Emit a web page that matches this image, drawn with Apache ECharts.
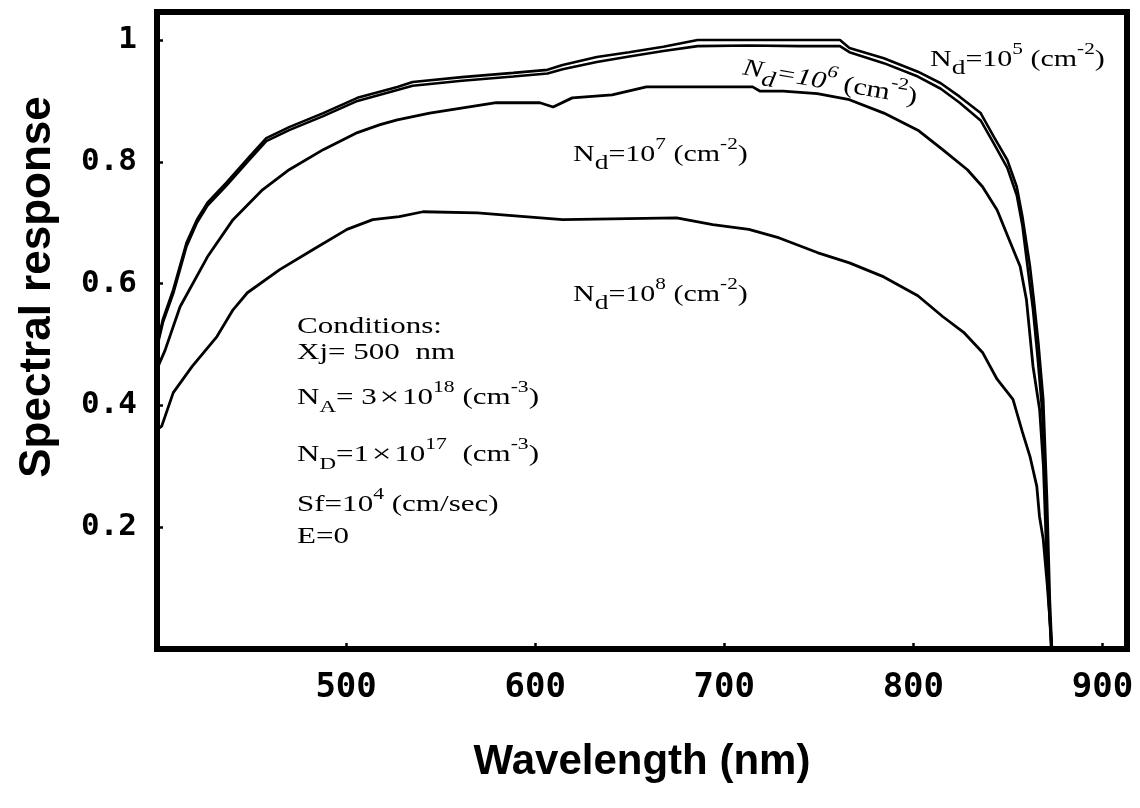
<!DOCTYPE html>
<html>
<head>
<meta charset="utf-8">
<title>Spectral response</title>
<script src="https://cdn.jsdelivr.net/npm/echarts@6.0.0/dist/echarts.min.js"></script>
<style>
  html, body { margin: 0; padding: 0; background: #fff; }
  #chart { width: 1140px; height: 808px; }
</style>
</head>
<body>
<div id="chart"></div>
<script>
// wavelength (nm) / spectral response
var wl5 = [400, 403.1, 408.6, 415.6, 421.1, 426.7, 436.7, 448.8, 457.8, 469.9, 487.9, 506, 527.1, 535.2, 561.3, 588.4, 606.5, 614.5, 632.6, 649.7, 667.8, 685.9, 713, 740.1, 761.2, 766.2, 784.4, 802.4, 814.5, 824.5, 835.6, 842.6, 849.7, 854.7, 857.7, 861.7, 863.7, 866.2, 868.7, 870.7, 872.2, 873.3];
var sr5 = [0.50, 0.541, 0.59, 0.667, 0.705, 0.733, 0.766, 0.808, 0.839, 0.857, 0.88, 0.905, 0.923, 0.931, 0.939, 0.946, 0.951, 0.959, 0.972, 0.98, 0.989, 1.0, 1.0, 1.0, 1.0, 0.987, 0.97, 0.948, 0.929, 0.907, 0.88, 0.841, 0.803, 0.759, 0.71, 0.628, 0.574, 0.50, 0.41, 0.246, 0.08, 0];

var wl6 = [400, 403.1, 408.6, 415.6, 421.1, 426.7, 436.7, 448.8, 457.8, 469.9, 487.9, 506, 527.1, 535.2, 561.3, 588.4, 606.5, 614.5, 632.6, 649.7, 667.8, 685.9, 713, 740.1, 761.2, 766.2, 784.4, 802.4, 814.5, 824.5, 835.6, 842.6, 849.7, 854.7, 857.7, 860.7, 863.2, 865.7, 868.2, 870.2, 871.7, 873];
var sr6 = [0.495, 0.536, 0.584, 0.661, 0.70, 0.728, 0.761, 0.803, 0.834, 0.852, 0.875, 0.90, 0.918, 0.925, 0.933, 0.94, 0.945, 0.952, 0.964, 0.973, 0.982, 0.99, 0.991, 0.99, 0.99, 0.98, 0.962, 0.94, 0.92, 0.897, 0.868, 0.83, 0.79, 0.745, 0.695, 0.62, 0.56, 0.48, 0.39, 0.24, 0.08, 0];

var wl7 = [400, 404.2, 412.2, 426.7, 440.2, 455.8, 469.9, 487.9, 506, 518, 527.1, 544.2, 579.4, 602.5, 609.5, 619.6, 640.7, 658.8, 715, 719, 731.1, 749.2, 766.2, 784.4, 802.4, 815.5, 828.6, 836.6, 844.3, 850.7, 856.5, 859.8, 863.3, 866.8, 868.8, 870.7, 873];
var sr7 = [0.46, 0.49, 0.562, 0.644, 0.705, 0.754, 0.787, 0.82, 0.848, 0.861, 0.869, 0.88, 0.897, 0.897, 0.89, 0.905, 0.91, 0.923, 0.923, 0.916, 0.916, 0.912, 0.902, 0.88, 0.852, 0.82, 0.787, 0.759, 0.721, 0.672, 0.628, 0.574, 0.464, 0.393, 0.30, 0.136, 0];

var wl8 = [400, 402.5, 408.6, 418.6, 431.7, 440.2, 447.8, 464.9, 482.6, 500.5, 514.1, 528.1, 540.7, 569.4, 614.5, 674.8, 693.9, 713, 729.1, 749.2, 766.2, 784.4, 802.4, 815.5, 826.6, 836.6, 844.3, 852.7, 857.7, 861.7, 865.3, 866.7, 868.7, 870.7, 872.2, 873.3];
var sr8 = [0.36, 0.366, 0.421, 0.464, 0.513, 0.557, 0.585, 0.623, 0.656, 0.689, 0.705, 0.71, 0.718, 0.716, 0.705, 0.708, 0.697, 0.689, 0.675, 0.651, 0.634, 0.611, 0.58, 0.546, 0.52, 0.487, 0.443, 0.41, 0.356, 0.316, 0.267, 0.218, 0.18, 0.11, 0.049, 0];

var xTicks = [500, 600, 700, 800, 900];
var yTicks = [0.2, 0.4, 0.6, 0.8, 1];

function pairs(xs, ys) {
    var out = [];
    for (var i = 0; i < xs.length; i++) out.push([xs[i], ys[i]]);
    return out;
}

// rich text pieces for sub/superscripts
function richStyles(size, italic) {
    var fam = '"Liberation Serif", "Times New Roman", serif';
    var lh = Math.round(size * 1.6);
    var st = italic ? 'italic' : 'normal';
    var supF = Math.round(size * 0.7), supLh = Math.round(size * 1.45);
    return {
        n:  { fontSize: size, lineHeight: lh, fontFamily: fam, fill: '#000', fontStyle: st },
        ni: { fontSize: size, lineHeight: lh, fontFamily: fam, fill: '#000', fontStyle: 'italic' },
        np: { fontSize: size, lineHeight: lh, fontFamily: fam, fill: '#000', fontStyle: 'normal' },
        sup: { fontSize: supF, lineHeight: supLh, verticalAlign: 'top', fontFamily: fam, fill: '#000', fontStyle: st },
        supp: { fontSize: supF, lineHeight: supLh, verticalAlign: 'top', fontFamily: fam, fill: '#000', fontStyle: 'normal' },
        sub: { fontSize: Math.round(size * 0.9), lineHeight: Math.round(size * 0.9), verticalAlign: 'bottom', fontFamily: fam, fill: '#000', fontStyle: st },
        sub2: { fontSize: Math.round(size * 0.72), lineHeight: Math.round(size * 0.72), verticalAlign: 'bottom', fontFamily: fam, fill: '#000', fontStyle: st },
        x: { fontSize: Math.round(size * 1.15), lineHeight: lh, fontFamily: fam, fill: '#000', padding: [0, 2, 0, 2] }
    };
}

function label(x, y, text, size, opts) {
    opts = opts || {};
    return {
        type: 'text',
        x: x, y: y,
        scaleX: opts.scaleX || 1.25,
        rotation: opts.rotation || 0,
        z: 50,
        style: {
            text: text,
            rich: richStyles(size, opts.italic),
            align: 'left',
            verticalAlign: 'middle'
        }
    };
}

var chart = echarts.init(document.getElementById('chart'), null, { renderer: 'canvas' });

var lineStyleOf = function (w) { return { color: '#000', width: w }; };
var condScale = { scaleX: 1.35 };

var option = {
    animation: false,
    backgroundColor: '#fff',
    grid: {
        left: 157, right: 13, top: 12, bottom: 159,
        show: true, borderColor: '#000', borderWidth: 6, backgroundColor: 'transparent'
    },
    xAxis: {
        type: 'value', min: 400, max: 913, interval: 100,
        axisLine: { show: false },
        axisTick: { show: true, inside: true, length: 6, lineStyle: { color: '#000', width: 2.5 } },
        splitLine: { show: false },
        axisLabel: {
            showMinLabel: false, showMaxLabel: false, margin: 22,
            fontFamily: '"DejaVu Sans Mono", monospace', fontWeight: 'bold', fontSize: 34, color: '#000',
            formatter: function (v) { return xTicks.indexOf(v) >= 0 ? String(v) : ''; }
        }
    },
    yAxis: {
        type: 'value', min: 0, max: 1.046, interval: 0.2,
        axisLine: { show: false },
        axisTick: { show: true, inside: true, length: 6, lineStyle: { color: '#000', width: 2.5 } },
        splitLine: { show: false },
        axisLabel: {
            showMinLabel: false, showMaxLabel: false, margin: 20,
            fontFamily: '"DejaVu Sans Mono", monospace', fontWeight: 'bold', fontSize: 31, color: '#000',
            formatter: function (v) {
                for (var i = 0; i < yTicks.length; i++) {
                    if (Math.abs(v - yTicks[i]) < 1e-6) return yTicks[i] === 1 ? '1' : yTicks[i].toFixed(1);
                }
                return '';
            }
        }
    },
    series: [
        { name: 'Nd=1e5', type: 'line', showSymbol: false, data: pairs(wl5, sr5), lineStyle: lineStyleOf(2.6), z: 3 },
        { name: 'Nd=1e6', type: 'line', showSymbol: false, data: pairs(wl6, sr6), lineStyle: lineStyleOf(2.6), z: 3 },
        { name: 'Nd=1e7', type: 'line', showSymbol: false, data: pairs(wl7, sr7), lineStyle: lineStyleOf(2.8), z: 3 },
        { name: 'Nd=1e8', type: 'line', showSymbol: false, data: pairs(wl8, sr8), lineStyle: lineStyleOf(2.8), z: 3 }
    ],
    graphic: [
        {
            type: 'text', x: 38, y: 287, rotation: Math.PI / 2,
            style: { text: 'Spectral response', fontFamily: '"Liberation Sans", Arial, sans-serif', fontWeight: 'bold', fontSize: 44, fill: '#000', align: 'center', verticalAlign: 'middle' }
        },
        {
            type: 'text', x: 642, y: 762,
            style: { text: 'Wavelength (nm)', fontFamily: '"Liberation Sans", Arial, sans-serif', fontWeight: 'bold', fontSize: 42, fill: '#000', align: 'center', verticalAlign: 'middle' }
        },
        label(930, 60, '{n|N}{sub|d}{n|=10}{sup|5}{n| (cm}{sup|-2}{n|)}', 24),
        label(743, 68, '{ni|N}{sub|d}{ni|=10}{sup|6}{np| (cm}{supp|-2}{np|)}', 24, { italic: true, rotation: -0.17 }),
        label(573, 155, '{n|N}{sub|d}{n|=10}{sup|7}{n| (cm}{sup|-2}{n|)}', 24),
        label(573, 295, '{n|N}{sub|d}{n|=10}{sup|8}{n| (cm}{sup|-2}{n|)}', 24),
        label(297, 327, '{n|Conditions:}', 23, condScale),
        label(297, 353, '{n|Xj= 500  nm}', 23, condScale),
        label(297, 398, '{n|N}{sub2|A}{n|= 3}{x|×}{n|10}{sup|18}{n| (cm}{sup|-3}{n|)}', 23, condScale),
        label(297, 455, '{n|N}{sub2|D}{n|=1}{x|×}{n|10}{sup|17}{n|  (cm}{sup|-3}{n|)}', 23, condScale),
        label(297, 505, '{n|Sf=10}{sup|4}{n| (cm/sec)}', 23, condScale),
        label(297, 537, '{n|E=0}', 23, condScale)
    ]
};

chart.setOption(option);
</script>
</body>
</html>
